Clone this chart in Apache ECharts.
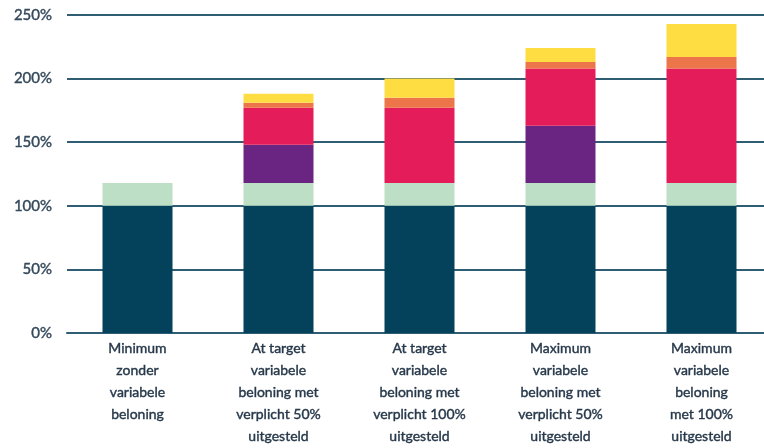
<!DOCTYPE html>
<html><head><meta charset="utf-8">
<script src="https://cdn.jsdelivr.net/npm/echarts@6/dist/echarts.min.js"></script>
<style>html,body{margin:0;padding:0;background:#fff}#c{width:764px;height:448px}</style>
</head><body><div id="c"></div>
<script>
const categories = [
  "Minimum\nzonder\nvariabele\nbeloning",
  "At target\nvariabele\nbeloning met\nverplicht 50%\nuitgesteld",
  "At target\nvariabele\nbeloning met\nverplicht 100%\nuitgesteld",
  "Maximum\nvariabele\nbeloning met\nverplicht 50%\nuitgesteld",
  "Maximum\nvariabele\nbeloning\nmet 100%\nuitgesteld"
];
const yTicks = [0, 50, 100, 150, 200, 250];
const seriesNames = ["Vast", "Overig", "Direct", "Uitgesteld", "Oranje", "Geel"];
const vast = [100, 100, 100, 100, 100];
const overig = [18, 18, 18, 18, 18];
const direct = [0, 30, 0, 45, 0];
const uitgesteld = [0, 29, 59, 45, 90];
const oranje = [0, 4, 8, 5, 9];
const geel = [0, 7, 15, 11, 26];
const colors = ["#03425a", "#bddfc6", "#6a2583", "#e51c5a", "#ec7549", "#fedd43"];

const allData = [vast, overig, direct, uitgesteld, oranje, geel];
const font = 'Lato, "Liberation Sans Narrow", Roboto, sans-serif';
const chart = echarts.init(document.getElementById('c'));
chart.setOption({
  animation: false,
  grid: {left: 67, top: 15, width: 705, bottom: 115, containLabel: false, outerBoundsMode: 'none'},
  xAxis: {
    type: 'category', data: categories,
    axisLine: {show: true, lineStyle: {color: '#2f5d74', width: 2}},
    axisTick: {show: false},
    axisLabel: {interval: 0, color: '#26384a', fontFamily: font, fontSize: 14, lineHeight: 22, margin: 4, verticalAlign: 'top',
      textBorderColor: '#26384a', textBorderWidth: 0.4}
  },
  yAxis: {
    type: 'value', min: yTicks[0], max: yTicks[yTicks.length - 1], interval: 50,
    axisLine: {show: false}, axisTick: {show: false},
    axisLabel: {formatter: v => v + '%', color: '#34495c', fontFamily: font, fontSize: 15, margin: 15,
      textBorderColor: '#34495c', textBorderWidth: 0.4},
    splitLine: {lineStyle: {color: '#2f5d74', width: 2}}
  },
  series: allData.map((d, i) => ({
    name: seriesNames[i], type: 'bar', stack: 'tot', data: d, barWidth: 70,
    itemStyle: {color: colors[i]}
  }))
});
</script></body></html>
